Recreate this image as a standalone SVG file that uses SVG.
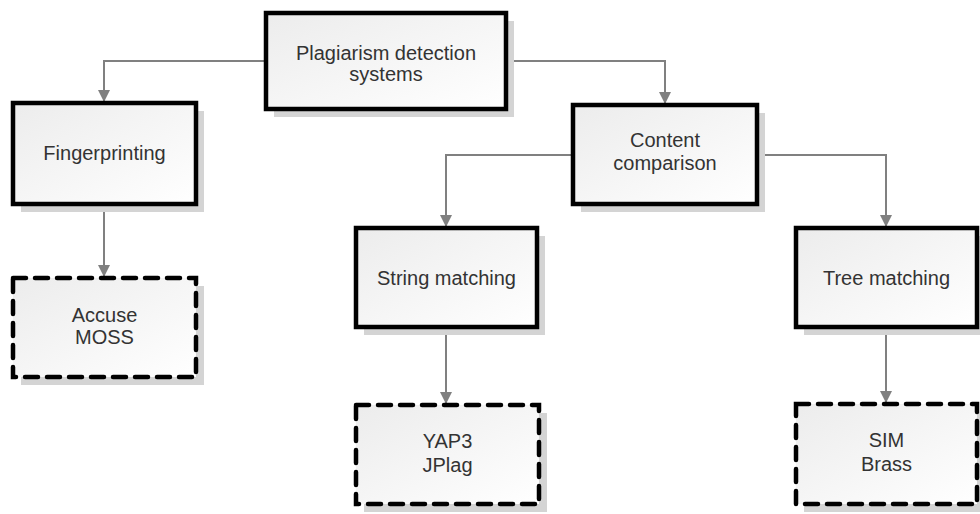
<svg xmlns="http://www.w3.org/2000/svg" width="980" height="514" viewBox="0 0 980 514">
<style>
.box{fill:url(#g);stroke:#000;stroke-width:4.5}
.dash{fill:url(#g);stroke:#000;stroke-width:4.5;stroke-dasharray:13,9;stroke-linecap:round}
.sh{fill:#d4d4d4}
.t{font-family:"Liberation Sans",Arial,sans-serif;font-size:20px;fill:#333;text-anchor:middle}
.c{fill:none;stroke:#808080;stroke-width:2}
</style>
<defs>
<linearGradient id="g" x1="0" y1="0" x2="1" y2="1">
<stop offset="0" stop-color="#ececec"/>
<stop offset="1" stop-color="#ffffff"/>
</linearGradient>
<marker id="a" markerWidth="12" markerHeight="12" refX="11" refY="6" orient="auto" markerUnits="userSpaceOnUse">
<path d="M0,0 L12,6 L0,12 Z" fill="#808080"/>
</marker>
</defs>
<g id="connectors">
<path class="c" d="M266,61 H104 V101" marker-end="url(#a)"/>
<path class="c" d="M506,61 H665 V103" marker-end="url(#a)"/>
<path class="c" d="M573,155 H446 V226" marker-end="url(#a)"/>
<path class="c" d="M757,155 H886 V226" marker-end="url(#a)"/>
<path class="c" d="M104,204 V276" marker-end="url(#a)"/>
<path class="c" d="M446,327 V403" marker-end="url(#a)"/>
<path class="c" d="M886,327 V402" marker-end="url(#a)"/>
</g>
<g id="n-root">
<rect class="sh" x="274" y="21" width="240" height="96"/>
<rect class="box" x="266" y="13" width="240" height="96"/>
<text class="t" x="386" y="60">Plagiarism detection</text>
<text class="t" x="386" y="81">systems</text>
</g>
<g id="n-finger">
<rect class="sh" x="21" y="111" width="183" height="101"/>
<rect class="box" x="13" y="103" width="183" height="101"/>
<text class="t" x="104.5" y="160">Fingerprinting</text>
</g>
<g id="n-content">
<rect class="sh" x="581" y="113" width="184" height="99"/>
<rect class="box" x="573" y="105" width="184" height="99"/>
<text class="t" x="665" y="147">Content</text>
<text class="t" x="665" y="170">comparison</text>
</g>
<g id="n-accuse">
<rect class="sh" x="21" y="286" width="183" height="99"/>
<rect class="dash" x="13" y="278" width="183" height="99"/>
<text class="t" x="104.5" y="322">Accuse</text>
<text class="t" x="104.5" y="344">MOSS</text>
</g>
<g id="n-string">
<rect class="sh" x="364" y="236" width="181" height="99"/>
<rect class="box" x="356" y="228" width="181" height="99"/>
<text class="t" x="446.5" y="285">String matching</text>
</g>
<g id="n-tree">
<rect class="sh" x="804" y="236" width="181" height="99"/>
<rect class="box" x="796" y="228" width="181" height="99"/>
<text class="t" x="886.5" y="285">Tree matching</text>
</g>
<g id="n-yap">
<rect class="sh" x="364" y="413" width="183" height="99"/>
<rect class="dash" x="356" y="405" width="183" height="99"/>
<text class="t" x="447.5" y="448">YAP3</text>
<text class="t" x="447.5" y="472">JPlag</text>
</g>
<g id="n-sim">
<rect class="sh" x="804" y="412" width="181" height="100"/>
<rect class="dash" x="796" y="404" width="181" height="100"/>
<text class="t" x="886.5" y="447">SIM</text>
<text class="t" x="886.5" y="471">Brass</text>
</g>
</svg>
